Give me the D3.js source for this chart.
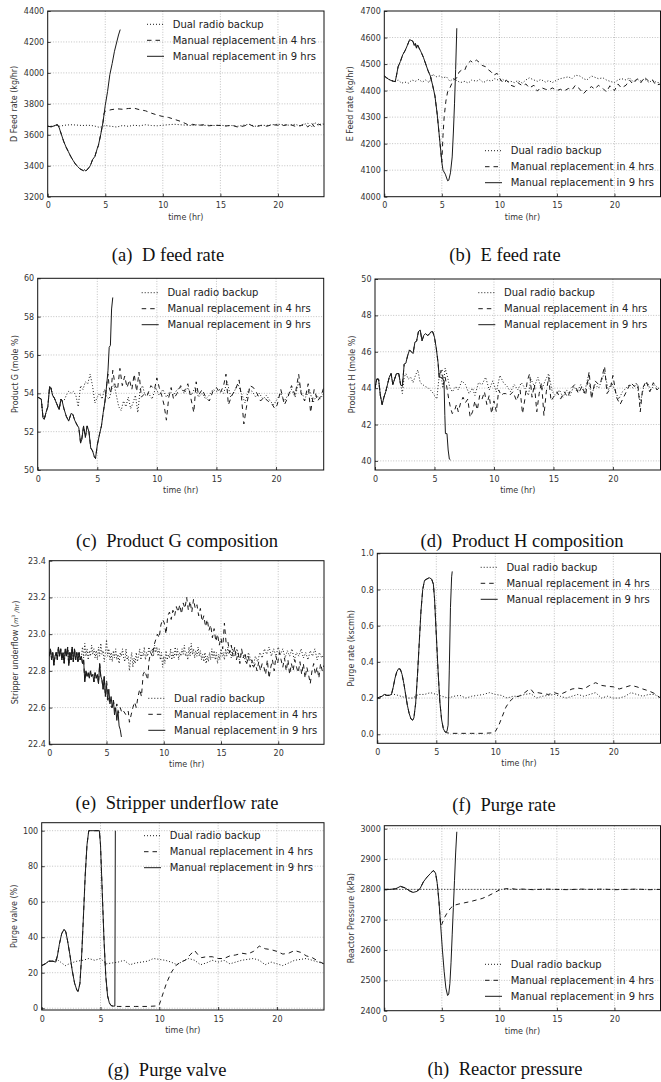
<!DOCTYPE html>
<html><head><meta charset="utf-8">
<script src="https://cdn.jsdelivr.net/npm/d3@7"></script>
<style>body{margin:0;background:#fff}svg{display:block}</style>
</head><body>
<svg id="fig" width="661" height="1082"></svg>
<script>
// ---- series: [time (hr), value] ----
const seriesNames = ["Dual radio backup", "Manual replacement in 4 hrs", "Manual replacement in 9 hrs"];
const xTicks = [0, 5, 10, 15, 20];

// (a) D feed rate (kg/hr)
const dFeed9h = [[0,3655],[0.3,3652],[0.5,3656],[0.7,3662],[0.85,3665],[1.0,3645],[1.2,3600],[1.4,3555],[1.6,3520],[1.8,3490],[2.0,3460],[2.2,3435],[2.4,3412],[2.6,3395],[2.8,3380],[3.0,3372],[3.1,3368],[3.2,3375],[3.3,3366],[3.5,3380],[3.7,3400],[3.9,3440],[4.1,3460],[4.3,3510],[4.4,3530],[4.6,3600],[4.8,3680],[5.0,3790],[5.2,3880],[5.4,3990],[5.6,4060],[5.8,4140],[6.0,4200],[6.15,4245],[6.3,4280]];
const dFeed4hAfter = [[4.9,3740],[5.0,3752],[5.5,3762],[6,3768],[6.5,3765],[7,3770],[7.5,3772],[8,3762],[8.5,3755],[9,3740],[9.5,3728],[10,3718],[10.5,3712],[11,3700],[11.5,3688],[12,3672],[12.3,3660],[12.6,3668],[13,3660],[13.5,3665],[14,3658],[14.5,3662],[15,3660],[15.5,3657],[16,3662],[16.5,3650],[17,3656],[17.5,3668],[18,3650],[18.5,3660],[19,3655],[19.5,3665],[20,3662],[20.5,3660],[21,3668],[21.5,3655],[22,3660],[22.3,3672],[22.6,3650],[22.9,3678],[23.2,3648],[23.5,3670],[23.8,3660],[24,3675]];
const dFeedBackup = [[0,3655],[0.5,3656],[0.8,3664],[1.0,3655],[1.5,3662],[2,3665],[2.5,3663],[3,3660],[3.5,3662],[4,3658],[4.5,3648],[5,3660],[5.5,3655],[6,3650],[6.5,3660],[7,3655],[7.5,3662],[8,3658],[8.5,3665],[9,3660],[9.5,3658],[10,3662],[10.5,3665],[11,3668],[11.5,3665],[12,3662],[12.5,3660],[13,3665],[13.5,3660],[14,3662],[14.5,3660],[15,3662],[15.5,3658],[16,3660],[16.5,3655],[17,3662],[17.5,3668],[18,3655],[18.5,3662],[19,3660],[19.5,3665],[20,3668],[20.5,3665],[21,3662],[21.5,3668],[22,3655],[22.3,3668],[22.6,3675],[22.9,3650],[23.2,3680],[23.5,3660],[23.8,3672],[24,3668]];

// (b) E feed rate (kg/hr)
const eFeed9h = [[0,4455],[0.2,4448],[0.4,4442],[0.6,4438],[0.8,4435],[0.95,4434],[1.05,4455],[1.2,4490],[1.4,4510],[1.6,4535],[1.8,4550],[2.0,4570],[2.2,4592],[2.4,4588],[2.5,4585],[2.6,4570],[2.7,4578],[2.8,4560],[2.9,4572],[3.0,4562],[3.2,4545],[3.4,4525],[3.6,4500],[3.8,4475],[4.0,4455],[4.2,4420],[4.4,4380],[4.6,4310],[4.8,4220],[5.0,4130],[5.1,4100],[5.3,4085],[5.5,4060],[5.6,4062],[5.75,4090],[5.9,4150],[6.0,4240],[6.1,4350],[6.2,4480],[6.3,4635]];
const eFeed4hAfter = [[5.1,4230],[5.2,4300],[5.35,4360],[5.5,4395],[5.7,4410],[6,4440],[6.3,4448],[6.5,4470],[6.8,4480],[7,4478],[7.2,4500],[7.5,4512],[7.7,4505],[8,4515],[8.3,4505],[8.5,4495],[8.8,4490],[9,4480],[9.3,4470],[9.5,4458],[9.8,4465],[10,4448],[10.3,4430],[10.6,4440],[11,4420],[11.3,4415],[11.6,4430],[12,4418],[12.3,4425],[12.6,4410],[13,4420],[13.3,4398],[13.6,4412],[14,4405],[14.3,4402],[14.6,4410],[15,4400],[15.3,4405],[15.6,4398],[16,4408],[16.3,4402],[16.6,4420],[17,4405],[17.3,4388],[17.6,4402],[18,4415],[18.3,4405],[18.6,4420],[19,4408],[19.3,4395],[19.6,4418],[20,4400],[20.3,4425],[20.6,4410],[21,4420],[21.3,4440],[21.6,4425],[22,4445],[22.3,4430],[22.6,4450],[23,4435],[23.3,4440],[23.6,4420],[24,4425]];
const eFeedBackup = [[0,4455],[0.5,4440],[0.95,4434],[1.2,4440],[1.5,4428],[1.8,4432],[2.1,4428],[2.4,4440],[2.7,4435],[3.0,4442],[3.3,4432],[3.6,4440],[3.9,4430],[4.2,4462],[4.5,4452],[4.8,4455],[5.1,4448],[5.4,4452],[5.7,4435],[6,4445],[6.3,4438],[6.6,4430],[7,4435],[7.3,4428],[7.6,4440],[8,4435],[8.3,4442],[8.6,4430],[9,4440],[9.3,4435],[9.6,4445],[10,4438],[10.3,4442],[10.6,4432],[11,4435],[11.3,4430],[11.6,4438],[12,4428],[12.3,4440],[12.6,4448],[13,4440],[13.3,4435],[13.6,4442],[14,4432],[14.3,4438],[14.6,4430],[15,4440],[15.3,4445],[15.6,4448],[16,4452],[16.3,4445],[16.6,4458],[17,4455],[17.3,4445],[17.6,4440],[18,4455],[18.3,4450],[18.6,4445],[19,4448],[19.3,4440],[19.6,4435],[20,4430],[20.3,4440],[20.6,4445],[21,4440],[21.3,4448],[21.6,4435],[22,4442],[22.3,4436],[22.6,4444],[23,4430],[23.3,4440],[23.6,4432],[24,4428]];

// (c) Product G (mole %)
const prodG9h = [[0,53.8],[0.3,53.7],[0.45,52.7],[0.55,52.65],[0.7,53.0],[0.85,53.3],[1.0,54.35],[1.1,54.3],[1.25,53.9],[1.4,53.75],[1.6,53.45],[1.8,53.15],[1.95,53.7],[2.05,53.6],[2.2,53.2],[2.4,52.8],[2.6,52.55],[2.8,52.95],[2.95,52.9],[3.1,52.6],[3.3,52.35],[3.45,52.2],[3.6,51.4],[3.7,51.6],[3.85,52.3],[4.0,51.7],[4.15,52.3],[4.3,52.0],[4.45,51.15],[4.6,51.0],[4.75,50.7],[4.85,50.6],[5.0,51.3],[5.2,51.9],[5.35,52.3],[5.5,53.0],[5.65,53.6],[5.8,54.5],[5.9,55.2],[6.0,56.4],[6.1,56.5],[6.2,58.4],[6.3,59.0]];
const prodG4hAfter = [[5.9,55.0],[6.0,54.3],[6.15,54.0],[6.3,55.2],[6.5,54.4],[6.7,54.2],[6.9,55.3],[7.1,54.4],[7.3,54.9],[7.5,54.3],[7.7,54.7],[7.9,54.2],[8.1,55.0],[8.3,54.1],[8.5,55.1],[8.7,53.8],[9.0,54.0],[9.2,53.9],[9.5,54.4],[9.8,54.2],[10,54.8],[10.2,54.3],[10.4,53.9],[10.6,53.4],[10.8,52.6],[11,53.8],[11.2,54.3],[11.4,53.7],[11.7,54.0],[12,54.4],[12.3,54.1],[12.6,54.5],[12.9,53.6],[13.1,53.0],[13.3,54.6],[13.5,53.9],[13.8,54.2],[14.1,53.8],[14.4,53.6],[14.7,54.1],[15,54.3],[15.3,54.0],[15.6,54.4],[15.8,55.0],[16,53.4],[16.3,53.9],[16.6,54.2],[16.9,54.7],[17.1,53.8],[17.3,52.4],[17.5,53.2],[17.8,54.4],[18.1,54.3],[18.4,54.0],[18.7,53.6],[19,53.8],[19.3,53.6],[19.6,53.5],[19.9,53.2],[20.1,53.4],[20.4,54.2],[20.7,53.4],[21,53.8],[21.3,54.4],[21.6,53.9],[21.9,55.0],[22.1,54.0],[22.4,53.6],[22.7,54.5],[22.9,53.0],[23.2,54.2],[23.5,53.6],[23.8,53.9],[24,54.3]];
const prodGBackupAfter = [[2.2,53.6],[2.4,53.9],[2.6,54.1],[2.8,54.0],[3.0,54.1],[3.2,53.9],[3.4,53.3],[3.6,54.4],[3.8,54.2],[4.0,54.6],[4.2,54.5],[4.4,55.0],[4.6,54.4],[4.8,53.5],[5.0,53.8],[5.2,54.0],[5.4,53.7],[5.6,54.2],[5.8,53.8],[6.0,53.7],[6.2,54.2],[6.4,54.5],[6.6,53.9],[6.8,53.3],[7.0,53.1],[7.2,53.6],[7.4,53.3],[7.6,53.8],[7.8,53.2],[8.0,53.5],[8.2,53.9],[8.4,53.0],[8.6,54.2],[8.8,54.4],[9.0,53.9],[9.3,54.0],[9.6,53.7],[9.9,54.3],[10.2,53.9],[10.5,54.2],[10.8,53.8],[11.1,54.1],[11.4,53.9],[11.7,54.2],[12,54.3],[12.3,54.0],[12.6,54.3],[12.9,53.9],[13.2,54.3],[13.5,53.8],[13.8,54.0],[14.1,53.7],[14.4,53.9],[14.7,54.2],[15,54.1],[15.3,54.2],[15.6,54.0],[15.9,54.6],[16.2,53.8],[16.5,54.1],[16.8,54.5],[17.1,54.0],[17.4,53.5],[17.7,54.2],[18,54.1],[18.3,53.8],[18.6,54.0],[18.9,53.7],[19.2,53.9],[19.5,53.6],[19.8,53.4],[20.1,53.7],[20.4,54.0],[20.7,53.6],[21,53.9],[21.3,54.2],[21.6,53.8],[21.9,54.6],[22.2,53.9],[22.5,53.8],[22.8,54.2],[23.1,53.5],[23.4,53.9],[23.7,53.7],[24,54.0]];

// (d) Product H (mole %)
const prodH9h = [[0,44.0],[0.15,44.5],[0.3,44.5],[0.45,43.6],[0.6,43.1],[0.75,43.5],[0.9,43.8],[1.05,44.2],[1.2,44.6],[1.35,44.8],[1.5,44.2],[1.65,44.5],[1.8,44.8],[2.0,44.8],[2.15,44.2],[2.3,44.1],[2.45,45.3],[2.6,45.4],[2.75,45.8],[2.9,46.1],[3.05,46.0],[3.2,45.9],[3.35,46.5],[3.5,46.6],[3.65,47.1],[3.8,47.2],[3.95,46.6],[4.1,46.9],[4.25,47.0],[4.4,46.9],[4.55,46.95],[4.7,47.1],[4.85,47.1],[5.0,46.8],[5.15,46.2],[5.3,45.4],[5.4,44.6],[5.55,44.6],[5.7,44.5],[5.8,44.4],[5.87,42.5],[5.92,41.5],[6.05,41.5],[6.15,40.6],[6.25,40.1],[6.35,40.05]];
const prodH4hAfter = [[5.55,44.9],[5.65,45.0],[5.75,44.2],[5.9,44.6],[6.05,44.0],[6.2,43.4],[6.35,42.9],[6.5,42.6],[6.7,42.8],[6.85,43.1],[7.0,42.7],[7.2,43.2],[7.4,43.5],[7.6,43.2],[7.8,43.4],[8.0,42.4],[8.2,42.7],[8.4,43.3],[8.6,42.8],[8.8,43.6],[9.0,43.4],[9.2,43.8],[9.4,43.1],[9.6,43.6],[9.8,42.6],[10.0,43.3],[10.2,42.7],[10.4,43.9],[10.6,43.6],[10.8,43.7],[11.0,43.7],[11.3,43.6],[11.6,43.8],[11.9,43.3],[12.2,43.9],[12.4,42.6],[12.6,43.4],[12.8,44.4],[13.0,44.8],[13.2,43.5],[13.4,44.2],[13.6,42.7],[13.8,43.7],[14.0,44.3],[14.2,42.5],[14.4,43.8],[14.6,44.6],[14.8,43.3],[15.0,43.5],[15.3,43.8],[15.6,43.4],[15.9,43.8],[16.2,43.5],[16.5,44.0],[16.8,44.2],[17.1,43.7],[17.4,44.1],[17.7,43.6],[18.0,44.9],[18.2,43.4],[18.5,44.4],[18.8,44.2],[19.0,44.4],[19.3,45.2],[19.5,43.7],[19.8,44.0],[20.0,44.7],[20.3,43.5],[20.6,43.1],[20.9,43.5],[21.2,43.9],[21.5,44.3],[21.8,44.1],[22.1,44.2],[22.3,42.7],[22.5,44.0],[22.8,44.4],[23.1,43.8],[23.4,44.3],[23.7,43.9],[24,44.1]];
const prodHBackupAfter = [[2.3,43.7],[2.45,44.6],[2.6,44.8],[2.8,44.5],[3.0,44.6],[3.2,44.3],[3.4,44.7],[3.6,45.0],[3.8,44.3],[4.0,44.2],[4.2,44.1],[4.5,44.0],[4.8,43.8],[5.0,43.6],[5.2,43.4],[5.35,44.4],[5.5,45.0],[5.7,44.0],[5.9,45.1],[6.1,44.6],[6.3,44.0],[6.5,43.8],[6.8,44.1],[7.0,43.9],[7.3,44.4],[7.6,44.2],[7.9,43.7],[8.2,44.0],[8.4,43.6],[8.7,44.3],[9.0,44.2],[9.3,44.6],[9.6,43.9],[9.9,44.4],[10.2,43.8],[10.5,44.7],[10.8,44.3],[11.1,44.1],[11.4,43.8],[11.7,44.2],[12.0,43.9],[12.3,44.3],[12.6,44.0],[12.9,43.6],[13.1,44.5],[13.4,44.1],[13.7,44.6],[14.0,43.9],[14.3,44.4],[14.6,44.8],[14.9,43.8],[15.2,43.6],[15.5,43.9],[15.8,43.5],[16.1,43.9],[16.4,43.6],[16.7,44.1],[17.0,43.8],[17.3,44.2],[17.6,43.7],[17.9,44.6],[18.2,43.6],[18.5,44.2],[18.8,44.0],[19.1,44.5],[19.3,44.9],[19.6,43.9],[19.9,44.3],[20.2,43.8],[20.5,43.4],[20.8,43.8],[21.1,44.0],[21.4,44.2],[21.7,44.0],[22.0,44.3],[22.3,43.2],[22.6,44.1],[22.9,44.3],[23.2,43.9],[23.5,44.2],[23.8,44.0],[24,44.0]];

// (e) Stripper underflow (m3/hr)
const strip9h = [[0,22.88],[0.1,22.92],[0.2,22.86],[0.3,22.9],[0.4,22.83],[0.5,22.88],[0.6,22.9],[0.7,22.86],[0.8,22.93],[0.9,22.88],[1.0,22.92],[1.1,22.86],[1.2,22.9],[1.3,22.84],[1.4,22.92],[1.5,22.88],[1.6,22.93],[1.7,22.83],[1.8,22.9],[1.9,22.86],[2.0,22.93],[2.1,22.85],[2.2,22.92],[2.3,22.86],[2.4,22.9],[2.5,22.85],[2.6,22.9],[2.7,22.86],[2.8,22.88],[2.9,22.84],[3.0,22.86],[3.1,22.74],[3.2,22.8],[3.3,22.77],[3.4,22.79],[3.5,22.76],[3.6,22.8],[3.7,22.77],[3.8,22.78],[3.9,22.74],[4.0,22.79],[4.1,22.76],[4.2,22.78],[4.3,22.73],[4.4,22.84],[4.5,22.77],[4.6,22.75],[4.7,22.7],[4.8,22.77],[4.9,22.66],[5.0,22.72],[5.1,22.64],[5.2,22.7],[5.3,22.62],[5.4,22.66],[5.5,22.6],[5.6,22.64],[5.7,22.56],[5.8,22.6],[5.9,22.53],[6.0,22.58],[6.1,22.5],[6.2,22.48],[6.3,22.44]];
const strip4hAfter = [[5.0,22.75],[5.15,22.66],[5.3,22.62],[5.45,22.6],[5.6,22.64],[5.75,22.58],[5.9,22.62],[6.05,22.57],[6.2,22.6],[6.35,22.57],[6.5,22.58],[6.7,22.56],[6.9,22.58],[7.0,22.52],[7.15,22.56],[7.3,22.6],[7.45,22.63],[7.6,22.6],[7.75,22.66],[7.9,22.7],[8.05,22.66],[8.2,22.78],[8.35,22.8],[8.5,22.77],[8.6,22.75],[8.7,22.85],[8.85,22.9],[9.0,22.88],[9.15,22.94],[9.3,22.97],[9.45,23.0],[9.6,22.98],[9.75,23.05],[9.9,23.08],[10.05,23.06],[10.2,23.0],[10.35,23.1],[10.5,23.12],[10.65,23.08],[10.8,23.13],[10.95,23.1],[11.1,23.15],[11.25,23.12],[11.4,23.16],[11.55,23.11],[11.7,23.17],[11.85,23.14],[12.0,23.2],[12.15,23.13],[12.3,23.18],[12.45,23.12],[12.6,23.19],[12.75,23.14],[12.9,23.16],[13.05,23.1],[13.2,23.14],[13.35,23.07],[13.5,23.1],[13.65,23.04],[13.8,23.08],[13.95,23.02],[14.1,23.05],[14.25,22.98],[14.4,23.03],[14.55,22.96],[14.7,23.0],[14.85,22.94],[15.0,22.98],[15.15,22.92],[15.3,23.06],[15.45,22.95],[15.6,22.96],[15.75,22.9],[15.9,22.94],[16.05,22.88],[16.2,22.93],[16.35,22.86],[16.5,22.9],[16.65,22.84],[16.8,22.92],[16.95,22.87],[17.1,22.9],[17.25,22.84],[17.4,22.88],[17.55,22.82],[17.7,22.86],[17.85,22.82],[18.0,22.84],[18.15,22.8],[18.3,22.85],[18.45,22.8],[18.6,22.84],[18.75,22.82],[18.9,22.78],[19.05,22.86],[19.2,22.76],[19.35,22.82],[19.5,22.86],[19.65,22.8],[19.8,22.88],[19.95,22.84],[20.1,22.9],[20.25,22.86],[20.4,22.82],[20.55,22.87],[20.7,22.8],[20.85,22.86],[21.0,22.78],[21.15,22.84],[21.3,22.8],[21.45,22.86],[21.6,22.82],[21.75,22.79],[21.9,22.85],[22.05,22.78],[22.2,22.84],[22.35,22.76],[22.5,22.82],[22.65,22.78],[22.8,22.73],[22.95,22.8],[23.1,22.84],[23.25,22.78],[23.4,22.82],[23.55,22.76],[23.7,22.84],[23.85,22.8],[24,22.83]];
const stripBackupAfter = [[2.9,22.93],[3.0,22.87],[3.1,22.95],[3.2,22.88],[3.3,22.92],[3.4,22.86],[3.5,22.91],[3.6,22.88],[3.7,22.94],[3.8,22.89],[3.9,22.92],[4.0,22.87],[4.1,22.91],[4.2,22.86],[4.3,22.93],[4.4,22.88],[4.5,22.95],[4.6,22.89],[4.7,22.91],[4.8,22.85],[4.9,22.9],[5.0,22.97],[5.1,22.88],[5.2,22.92],[5.3,22.86],[5.4,22.9],[5.5,22.85],[5.6,22.91],[5.7,22.87],[5.8,22.92],[5.9,22.86],[6.0,22.89],[6.1,22.84],[6.2,22.9],[6.3,22.88],[6.4,22.92],[6.5,22.87],[6.6,22.85],[6.7,22.92],[6.8,22.86],[6.9,22.88],[7.0,22.8],[7.1,22.86],[7.2,22.9],[7.3,22.82],[7.4,22.87],[7.5,22.84],[7.6,22.9],[7.7,22.85],[7.8,22.88],[7.9,22.92],[8.0,22.86],[8.1,22.9],[8.2,22.88],[8.3,22.93],[8.4,22.86],[8.5,22.9],[8.6,22.88],[8.7,22.93],[8.8,22.9],[9.0,22.92],[9.1,22.88],[9.2,22.94],[9.3,22.9],[9.4,22.93],[9.5,22.88],[9.6,22.92],[9.7,22.86],[9.8,22.9],[9.9,22.82],[10.0,22.88],[10.1,22.84],[10.2,22.91],[10.3,22.86],[10.4,22.89],[10.5,22.87],[10.6,22.92],[10.7,22.86],[10.8,22.9],[10.9,22.87],[11.0,22.93],[11.1,22.88],[11.2,22.92],[11.3,22.86],[11.4,22.9],[11.5,22.88],[11.6,22.92],[11.7,22.89],[11.8,22.94],[11.9,22.88],[12.0,22.9],[12.1,22.86],[12.2,22.93],[12.3,22.88],[12.4,22.95],[12.5,22.89],[12.6,22.92],[12.7,22.87],[12.8,22.91],[12.9,22.88],[13.0,22.93],[13.1,22.88],[13.2,22.91],[13.3,22.86],[13.4,22.89],[13.5,22.85],[13.6,22.9],[13.7,22.84],[13.8,22.88],[13.9,22.85],[14.0,22.9],[14.1,22.86],[14.2,22.92],[14.3,22.87],[14.4,22.91],[14.5,22.86],[14.6,22.9],[14.7,22.84],[14.8,22.89],[14.9,22.86],[15.0,22.92],[15.1,22.88],[15.2,22.9],[15.3,22.86],[15.4,22.92],[15.5,22.88],[15.6,22.93],[15.7,22.89],[15.8,22.91],[15.9,22.87],[16.0,22.92],[16.2,22.88],[16.4,22.92],[16.6,22.86],[16.8,22.9],[17.0,22.88],[17.2,22.84],[17.4,22.9],[17.6,22.86],[17.8,22.82],[18.0,22.88],[18.2,22.85],[18.4,22.9],[18.6,22.87],[18.8,22.92],[19.0,22.89],[19.2,22.93],[19.4,22.88],[19.6,22.92],[19.8,22.88],[20.0,22.93],[20.2,22.89],[20.4,22.92],[20.6,22.87],[20.8,22.91],[21.0,22.88],[21.2,22.92],[21.4,22.86],[21.6,22.9],[21.8,22.88],[22.0,22.92],[22.2,22.87],[22.4,22.9],[22.6,22.86],[22.8,22.91],[23.0,22.88],[23.2,22.92],[23.4,22.86],[23.6,22.9],[23.8,22.87],[24,22.89]];

// (f) Purge rate (kscmh)
const purge9h = [[0,0.2],[0.2,0.205],[0.4,0.21],[0.6,0.22],[0.8,0.215],[1.0,0.215],[1.2,0.22],[1.35,0.26],[1.5,0.31],[1.65,0.345],[1.8,0.362],[1.95,0.36],[2.1,0.33],[2.25,0.28],[2.4,0.22],[2.55,0.16],[2.7,0.115],[2.85,0.085],[3.0,0.078],[3.1,0.09],[3.25,0.17],[3.4,0.32],[3.55,0.5],[3.7,0.68],[3.85,0.8],[4.0,0.85],[4.2,0.858],[4.4,0.865],[4.6,0.858],[4.75,0.83],[4.85,0.75],[5.0,0.55],[5.15,0.35],[5.3,0.18],[5.45,0.08],[5.6,0.03],[5.75,0.012],[5.9,0.015],[6.0,0.05],[6.1,0.35],[6.2,0.7],[6.3,0.87],[6.35,0.9]];
const purge4hAfter = [[5.9,0.008],[6.2,0.005],[7,0.005],[8,0.005],[9,0.005],[9.8,0.008],[10.0,0.015],[10.3,0.05],[10.6,0.1],[10.9,0.15],[11.2,0.18],[11.6,0.205],[12,0.21],[12.4,0.225],[12.8,0.245],[13.0,0.25],[13.3,0.225],[13.6,0.23],[14,0.225],[14.5,0.22],[15,0.23],[15.5,0.22],[16,0.235],[16.5,0.25],[17,0.255],[17.5,0.25],[18,0.27],[18.5,0.285],[19,0.27],[19.5,0.265],[20,0.262],[20.5,0.25],[21,0.26],[21.5,0.27],[22,0.262],[22.5,0.25],[23,0.24],[23.5,0.225],[24,0.2]];
const purgeBackupAfter = [[1.5,0.22],[2,0.21],[2.5,0.2],[3,0.2],[3.5,0.22],[4,0.22],[4.5,0.23],[5,0.22],[5.5,0.21],[6,0.2],[6.5,0.21],[7,0.215],[7.5,0.2],[8,0.21],[8.5,0.215],[9,0.22],[9.5,0.23],[10,0.22],[10.5,0.215],[11,0.2],[11.5,0.21],[12,0.21],[12.5,0.22],[13,0.225],[13.5,0.2],[14,0.21],[14.5,0.215],[15,0.22],[15.5,0.21],[16,0.2],[16.5,0.21],[17,0.22],[17.5,0.21],[18,0.22],[18.5,0.23],[19,0.2],[19.5,0.21],[20,0.2],[20.5,0.2],[21,0.21],[21.5,0.23],[22,0.22],[22.5,0.21],[23,0.22],[23.5,0.22],[24,0.2]];

// (g) Purge valve (%)
const valve9h = [[0,24],[0.3,25],[0.6,26.5],[0.9,26.5],[1.2,26],[1.35,30],[1.5,36],[1.7,42],[1.9,44.5],[2.05,43],[2.2,38],[2.4,30],[2.6,21],[2.8,14],[3.0,10],[3.1,9.5],[3.25,14],[3.4,30],[3.55,52],[3.7,75],[3.85,92],[4.0,100],[4.5,100],[4.9,100],[5.0,92],[5.15,65],[5.3,38],[5.45,18],[5.6,7],[5.75,3],[5.9,1.5],[6.05,1.2],[6.22,1.2],[6.26,100]];
const valve4hAfter = [[6.5,1],[7,1],[8,1],[9,1],[9.8,1.3],[10,2],[10.3,8],[10.6,14],[11,20],[11.4,24],[11.8,26],[12.2,27],[12.6,30],[13,32.5],[13.3,30],[13.6,28.5],[14,29],[14.5,29],[15,28],[15.5,28],[16,29.5],[16.5,30],[17,31],[17.5,30.5],[18,32],[18.5,35],[19,33.5],[19.5,33],[20,32],[20.5,30.5],[21,31],[21.5,32.5],[22,31.5],[22.5,29.5],[23,28.5],[23.5,26.5],[24,25]];
const valveBackupAfter = [[1.3,27.5],[1.6,26],[2,24],[2.5,25.5],[3,26.5],[3.5,27],[4,28],[4.5,27],[5,28],[5.5,25],[6,25.5],[6.5,26],[7,27],[7.5,24.5],[8,25.5],[8.5,26],[9,26.5],[9.5,28],[10,27.5],[10.5,27],[11,26],[11.5,24.5],[12,26.5],[12.5,28],[13,27],[13.5,24.5],[14,25.5],[14.5,27],[15,26],[15.5,27],[16,25],[16.5,26],[17,27],[17.5,27.5],[18,28],[18.5,27],[19,24.5],[19.5,26],[20,25],[20.5,24],[21,25.5],[21.5,27],[22,27.5],[22.5,28],[23,27],[23.5,26],[24,25]];

// (h) Reactor pressure (kPa)
const press9h = [[0,2800],[0.5,2800],[1.0,2802],[1.4,2810],[1.8,2805],[2.2,2795],[2.5,2790],[2.8,2793],[3.1,2802],[3.4,2825],[3.7,2840],[4.0,2852],[4.25,2862],[4.45,2855],[4.6,2820],[4.75,2760],[4.9,2680],[5.05,2600],[5.2,2530],[5.35,2475],[5.5,2450],[5.6,2455],[5.7,2490],[5.8,2560],[5.9,2650],[6.0,2740],[6.1,2830],[6.2,2920],[6.3,2990]];
const press4hAfter = [[5.0,2685],[5.2,2705],[5.5,2725],[5.8,2740],[6.1,2748],[6.5,2752],[7,2756],[7.5,2760],[8,2765],[8.5,2770],[9,2778],[9.5,2788],[10,2798],[10.5,2802],[11,2803],[11.5,2800],[12,2801],[13,2799],[14,2801],[15,2800],[16,2799],[17,2801],[18,2800],[19,2801],[20,2799],[21,2800],[22,2801],[23,2799],[24,2800]];
const pressBackup = [[0,2800],[3,2800],[6,2800],[9,2800],[12,2800],[15,2800],[18,2800],[21,2800],[24,2800]];

// tick values per panel
const dFeedTicks = [3200,3400,3600,3800,4000,4200,4400];
const eFeedTicks = [4000,4100,4200,4300,4400,4500,4600,4700];
const prodGTicks = [50,52,54,56,58,60];
const prodHTicks = [40,42,44,46,48,50];
const stripTicks = [22.4,22.6,22.8,23.0,23.2,23.4];
const purgeTicks = [0.0,0.2,0.4,0.6,0.8,1.0];
const valveTicks = [0,20,40,60,80,100];
const pressTicks = [2400,2500,2600,2700,2800,2900,3000];

// shared portion: a scenario follows the faster one until it diverges
const upTo = (s, t) => s.filter(d => d[0] <= t);
const join = (s, t, rest) => upTo(s, t).concat(rest);

const panels = [
  { id:"a", caption:"D feed rate", ylabel:"D Feed rate (kg/hr)", yDomain:[3200,4400], ticks:dFeedTicks, fmt:d3.format("d"),
    backup:dFeedBackup, m4:join(dFeed9h,4.8,dFeed4hAfter), m9:dFeed9h,
    box:{l:47.7,t:11,r:324,b:196.7}, ylx:14, cap:[168,261], leg:[147,24.3] },
  { id:"b", caption:"E feed rate", ylabel:"E Feed rate (kg/hr)", yDomain:[4000,4700], ticks:eFeedTicks, fmt:d3.format("d"),
    backup:eFeedBackup, m4:join(eFeed9h,5.0,eFeed4hAfter), m9:eFeed9h,
    box:{l:384.3,t:11,r:660.5,b:196.7}, ylx:350, cap:[505,261], leg:[485,150.7] },
  { id:"c", caption:"Product G composition", ylabel:"Product G (mole %)", yDomain:[50,60], ticks:prodGTicks, fmt:d3.format("d"),
    backup:join(prodG9h,2.05,prodGBackupAfter), m4:join(prodG9h,5.8,prodG4hAfter), m9:prodG9h,
    box:{l:37.7,t:278.3,r:323.7,b:470}, ylx:15, cap:[177,547], leg:[141.7,292.7] },
  { id:"d", caption:"Product H composition", ylabel:"Product H (mole %)", yDomain:[39.5,50], ticks:prodHTicks, fmt:d3.format("d"),
    backup:join(prodH9h,2.15,prodHBackupAfter), m4:join(prodH9h,5.4,prodH4hAfter), m9:prodH9h,
    box:{l:375,t:279,r:660.5,b:470}, ylx:351.7, cap:[522,547], leg:[478.3,292.7] },
  { id:"e", caption:"Stripper underflow rate", ylabel:"Stripper underflow", yunit:true, yDomain:[22.4,23.4], ticks:stripTicks, fmt:d3.format(".1f"),
    backup:join(strip9h,2.8,stripBackupAfter), m4:join(strip9h,4.9,strip4hAfter), m9:strip9h,
    box:{l:49.3,t:560.7,r:324,b:744.3}, ylx:15, cap:[177,809], leg:[148.3,698.3] },
  { id:"f", caption:"Purge rate", ylabel:"Purge rate (kscmh)", yDomain:[-0.05,1.0], ticks:purgeTicks, fmt:d3.format(".1f"),
    backup:join(purge9h,1.2,purgeBackupAfter), m4:join(purge9h,5.75,purge4hAfter), m9:purge9h,
    box:{l:377.3,t:553.3,r:660.5,b:743.3}, ylx:350.7, cap:[504,811], leg:[480.7,567.3] },
  { id:"g", caption:"Purge valve", ylabel:"Purge valve (%)", yDomain:[-1,104.5], ticks:valveTicks, fmt:d3.format("d"),
    backup:join(valve9h,0.9,valveBackupAfter), m4:join(valve9h,6.05,valve4hAfter), m9:valve9h,
    box:{l:41.7,t:822.7,r:324,b:1010}, ylx:14, cap:[167,1076], leg:[144,835.7] },
  { id:"h", caption:"Reactor pressure", ylabel:"Reactor Pressure (kPa)", yDomain:[2400,3010], ticks:pressTicks, fmt:d3.format("d"),
    backup:pressBackup, m4:join(press9h,4.9,press4hAfter), m9:press9h,
    box:{l:384.3,t:825.7,r:660.5,b:1010.7}, ylx:350.7, cap:[505,1075], leg:[485,964.3] }
];

const svg = d3.select("#fig");
const ink = "#1a1a1a";
const sans = "'DejaVu Sans', sans-serif";
const styles = [
  { dash:"1,2", width:1.0 },   // dual radio backup
  { dash:"4.5,4", width:1.0 }, // manual replacement in 4 hrs
  { dash:null, width:1.0 }     // manual replacement in 9 hrs
];

panels.forEach(p => {
  const {l, t, r, b} = p.box;
  const x = d3.scaleLinear().domain([0, 24]).range([l, r]);
  const y = d3.scaleLinear().domain(p.yDomain).range([b, t]);
  const g = svg.append("g");

  g.append("clipPath").attr("id", "clip-" + p.id)
    .append("rect").attr("x", l).attr("y", t).attr("width", r - l).attr("height", b - t);

  // grid
  const grid = g.append("g").attr("stroke", "#000").attr("stroke-opacity", 0.35)
    .attr("stroke-width", 0.7).attr("stroke-dasharray", "1,1.6");
  xTicks.filter(v => v > 0).forEach(v =>
    grid.append("line").attr("x1", x(v)).attr("x2", x(v)).attr("y1", t).attr("y2", b));
  p.ticks.filter(v => y(v) < b - 1 && y(v) > t + 1).forEach(v =>
    grid.append("line").attr("x1", l).attr("x2", r).attr("y1", y(v)).attr("y2", y(v)));

  // series
  const line = d3.line().x(d => x(d[0])).y(d => y(d[1]));
  const plot = g.append("g").attr("clip-path", `url(#clip-${p.id})`);
  [p.backup, p.m4, p.m9].forEach((s, i) => {
    plot.append("path").attr("d", line(s)).attr("fill", "none")
      .attr("stroke", ink).attr("stroke-width", styles[i].width)
      .attr("stroke-dasharray", styles[i].dash)
      .attr("stroke-linejoin", "round");
  });

  // frame
  g.append("rect").attr("x", l).attr("y", t).attr("width", r - l).attr("height", b - t)
    .attr("fill", "none").attr("stroke", "#111").attr("stroke-width", 1);

  // x axis
  const xa = g.append("g").attr("transform", `translate(0,${b})`)
    .call(d3.axisBottom(x).tickValues(xTicks).tickSize(-3).tickPadding(6).tickFormat(d3.format("d")));
  const ya = g.append("g").attr("transform", `translate(${l},0)`)
    .call(d3.axisLeft(y).tickValues(p.ticks).tickSize(-3).tickPadding(6).tickFormat(p.fmt));
  [xa, ya].forEach(a => {
    a.select(".domain").remove();
    a.selectAll(".tick line").attr("stroke", "#111").attr("stroke-width", 0.8);
    a.selectAll(".tick text").attr("font-family", sans).attr("font-size", 8).attr("fill", "#333");
  });
  ya.selectAll(".tick text").attr("x", -3.5);
  xa.selectAll(".tick text").attr("y", 6);

  // axis titles
  g.append("text").attr("x", (l + r) / 2).attr("y", b + 23).attr("text-anchor", "middle")
    .attr("font-family", sans).attr("font-size", 8).attr("fill", "#333").text("time (hr)");
  const yl = g.append("text")
    .attr("transform", `translate(${p.ylx},${(t + b) / 2}) rotate(-90)`)
    .attr("dy", "0.35em").attr("text-anchor", "middle")
    .attr("font-family", sans).attr("font-size", 8).attr("fill", "#333").text(p.ylabel);
  if (p.yunit) {
    yl.append("tspan").text(" (");
    yl.append("tspan").attr("font-style", "italic").attr("font-size", 6.5).text("m");
    yl.append("tspan").attr("font-size", 4.5).attr("dy", "-0.6em").text("3");
    yl.append("tspan").attr("dy", "0.6em").attr("font-size", 6.5).attr("font-style", "italic").text(" /hr");
    yl.append("tspan").text(")");
  }

  // legend
  const [lx, ly] = p.leg;
  seriesNames.forEach((name, i) => {
    const yy = ly + i * 16;
    g.append("line").attr("x1", lx).attr("x2", lx + 17).attr("y1", yy).attr("y2", yy)
      .attr("stroke", ink).attr("stroke-width", 1).attr("stroke-dasharray", styles[i].dash);
    g.append("text").attr("x", lx + 25.7).attr("y", yy).attr("dy", "0.35em")
      .attr("font-family", sans).attr("font-size", 10).attr("fill", "#222").text(name);
  });

  // caption
  const cap = g.append("text").attr("x", p.cap[0]).attr("y", p.cap[1]).attr("text-anchor", "middle")
    .attr("font-family", "'Liberation Serif', 'Times New Roman', serif").attr("font-size", 18.5).attr("fill", "#111");
  cap.append("tspan").text(`(${p.id})`);
  cap.append("tspan").attr("dx", 5).text(" " + p.caption);
});
</script>
</body></html>
